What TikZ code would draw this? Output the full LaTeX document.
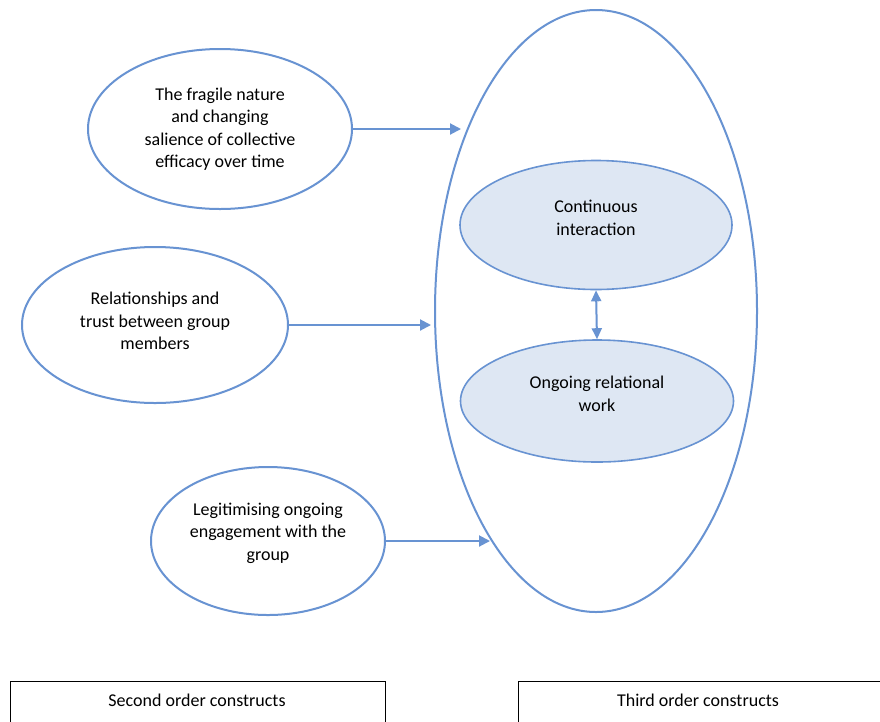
\documentclass[tikz,border=0pt]{standalone}
\usepackage{fontspec}
\setmainfont{Carlito}
\usetikzlibrary{shapes.geometric,arrows.meta}
\definecolor{eblue}{RGB}{104,147,210}
\definecolor{efill}{RGB}{222,231,243}
\tikzset{
  oval/.style={draw=eblue, line width=2pt, ellipse, inner sep=0pt},
  inner oval/.style={oval, fill=efill, line width=1.6pt},
  txt/.style={align=center, font=\fontsize{18}{22.5}\selectfont, text=black},
  arr/.style={draw=eblue, line width=2pt, -{Triangle[length=11pt,width=11pt]}},
  darr/.style={draw=eblue, line width=2pt, {Triangle[length=11pt,width=10pt]}-{Triangle[length=11pt,width=10pt]}},
  box/.style={draw=black, line width=0.8pt}
}
\begin{document}
\begin{tikzpicture}[x=1pt,y=-1pt]
\useasboundingbox[fill=white] (0,0) rectangle (880,721);
\node[oval, minimum width=322pt, minimum height=602pt] (big) at (596,311) {};
\node[inner oval, minimum width=272pt, minimum height=129pt] (in1) at (596,225) {};
\node[inner oval, minimum width=273pt, minimum height=122pt] (in2) at (597,401) {};
\node[txt] (tin1) at (596,218) {Continuous\\interaction};
\node[txt] (tin2) at (597,394) {Ongoing relational\\work};
\draw[darr] (in1.south) -- (in2.north);

\node[oval, minimum width=264pt, minimum height=160pt] (e1) at (220,129) {};
\node[txt] (t1) at (220,129) {The fragile nature\\and changing\\salience of collective\\efficacy over time};
\node[oval, minimum width=266pt, minimum height=156pt] (e2) at (155,325) {};
\node[txt] (t2) at (155,321) {Relationships and\\trust between group\\members};
\node[oval, minimum width=234pt, minimum height=148pt] (e3) at (268,541) {};
\node[txt] (t3) at (268,533) {Legitimising ongoing\\engagement with the\\group};

\coordinate (a1) at (461,129);
\coordinate (a2) at (431,325);
\coordinate (a3) at (490,541);
\draw[arr] (e1.east) -- (a1);
\draw[arr] (e2.east) -- (a2);
\draw[arr] (e3.east) -- (a3);

\coordinate (b1a) at (10,730);
\coordinate (b1b) at (385,681);
\coordinate (b2a) at (518,730);
\coordinate (b2b) at (890,681);
\draw[box] (b1a) |- (b1b) -- (385,730);
\draw[box] (b2a) |- (b2b);
\node[txt] (s2) at (197,700) {Second order constructs};
\node[txt] (s3) at (698,700) {Third order constructs};
\end{tikzpicture}
\end{document}
